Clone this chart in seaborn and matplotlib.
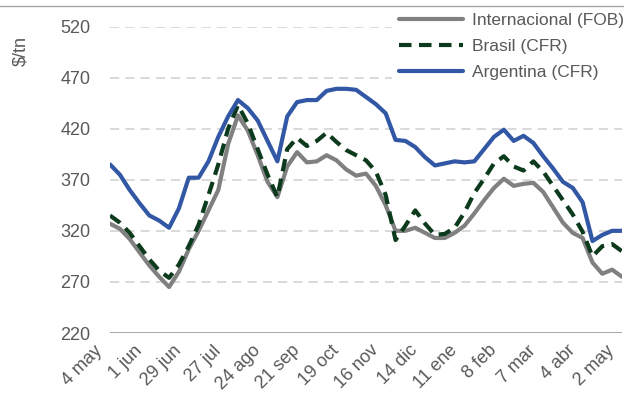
import numpy as np
import pandas as pd
import matplotlib
matplotlib.use("Agg")
import matplotlib.pyplot as plt
import matplotlib.transforms as mtrans
import seaborn as sns
from matplotlib.lines import Line2D

# ---- data ----
tick_labels = ["4 may", "1 jun", "29 jun", "27 jul", "24 ago", "21 sep", "19 oct",
               "16 nov", "14 dic", "11 ene", "8 feb", "7 mar", "4 abr", "2 may"]
weeks = list(range(53))  # weekly observations, 4 may -> 2 may

internacional = [327, 322, 312, 299, 286, 275, 265, 280, 302, 320, 340, 360, 405, 433,
                 418, 394, 368, 353, 383, 397, 387, 388, 394, 389, 380, 374, 376, 364,
                 345, 320, 320, 323, 318, 313, 313, 318, 325, 337, 350, 362, 371, 364,
                 366, 367, 358, 343, 328, 318, 313, 289, 278, 282, 275]
brasil = [335, 328, 318, 305, 292, 281, 274, 287, 305, 326, 355, 385, 420, 443,
          425, 400, 375, 353, 400, 411, 403, 408, 416, 407, 399, 394, 389, 378,
          355, 311, 325, 340, 327, 316, 317, 323, 338, 357, 371, 386, 393, 383,
          379, 388, 378, 364, 350, 336, 319, 295, 305, 307, 300]
argentina = [385, 375, 360, 347, 335, 330, 323, 342, 372, 372, 388, 412, 432, 448,
             440, 428, 408, 388, 432, 446, 448, 448, 457, 459, 459, 458, 451, 444,
             435, 409, 408, 402, 392, 384, 386, 388, 387, 388, 400, 412, 419, 408,
             413, 406, 393, 381, 368, 362, 348, 310, 316, 320, 320]

series_names = ["Internacional (FOB)", "Brasil (CFR)", "Argentina (CFR)"]
y_ticks = [220, 270, 320, 370, 420, 470, 520]

# ---- style ----
sns.set_theme(style="white")
plt.rcParams['font.family'] = ['Liberation Sans', 'DejaVu Sans']

fig = plt.figure(figsize=(6.24, 3.96), dpi=100)
ax = fig.add_axes([110/624, 1 - 333/396, 512/624, (333 - 26.5)/396])

text_col = "#595959"
colors = {"Internacional (FOB)": "#808080", "Brasil (CFR)": "#0C3A1C", "Argentina (CFR)": "#3157A5"}
lw = 3.0
tick_fs = 13

sns.lineplot(x=weeks, y=internacional, ax=ax, color=colors[series_names[0]],
             linewidth=lw, label=series_names[0], solid_capstyle="round",
             solid_joinstyle="round")
sns.lineplot(x=weeks, y=brasil, ax=ax, color=colors[series_names[1]],
             linewidth=lw, label=series_names[1], linestyle=(0, (3.0, 1.8)),
             dash_joinstyle="round")
sns.lineplot(x=weeks, y=argentina, ax=ax, color=colors[series_names[2]],
             linewidth=lw, label=series_names[2], solid_capstyle="round",
             solid_joinstyle="round")

ax.set_xlim(0, 52)
ax.set_ylim(220, 520)
ax.set_yticks(y_ticks)
ax.set_yticklabels([str(v) for v in y_ticks], color=text_col, fontsize=tick_fs)
tick_pos = list(range(0, 53, 4))
ax.set_xticks(tick_pos)
ax.set_xticklabels([])
ax.tick_params(axis="both", length=0)
ax.tick_params(axis="y", pad=14)

# rotated category labels, anchored just left of / below each tick
lab_trans = ax.get_xaxis_transform() + mtrans.ScaledTranslation(-10/100, -15/100,
                                                                 fig.dpi_scale_trans)
for p, lab in zip(tick_pos, tick_labels):
    ax.text(p, 0, lab, transform=lab_trans, rotation=45, ha="right", va="center",
            rotation_mode="anchor", color=text_col, fontsize=tick_fs, clip_on=False)

for v in y_ticks[1:]:
    ax.axhline(v, color="#D0D0D0", linewidth=1.1, linestyle=(0, (6, 4)), zorder=0)
ax.axhline(220, color="#A6A6A6", linewidth=1.4, zorder=1)
for s in ax.spines.values():
    s.set_visible(False)

ax.set_xlabel("")
ax.set_ylabel("")
fig.text(21/624, 1 - 51/396, "$/tn", rotation=90, ha="center", va="center",
         color=text_col, fontsize=tick_fs)

ax.get_legend().remove()
handles, labels = ax.get_legend_handles_labels()
leg = fig.legend(handles, labels, loc="upper left", bbox_to_anchor=(392/624, 1 - 6/396),
                 frameon=True, facecolor="white", edgecolor="none", framealpha=1,
                 fontsize=12.5, handlelength=3.7, handletextpad=0.5, labelspacing=0.62,
                 borderpad=0.4, borderaxespad=0)
for t in leg.get_texts():
    t.set_color(text_col)

# top rule of the cropped title area
fig.add_artist(Line2D([0, 1], [1 - 6/396, 1 - 6/396], color="#A6A6A6",
                      linewidth=1.0, zorder=20))

fig.savefig("out.png", dpi=100)
